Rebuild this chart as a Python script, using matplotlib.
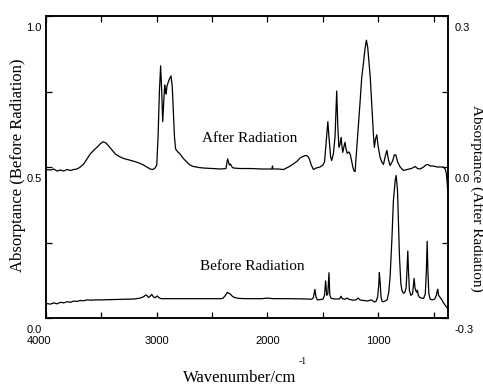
import matplotlib
matplotlib.use("Agg")
import matplotlib.pyplot as plt
from matplotlib.transforms import ScaledTranslation

# ---------------- data ----------------
after_wn = [4000, 3960, 3930, 3900, 3870, 3840, 3810, 3780, 3750, 3720, 3690, 3660,
            3630, 3600, 3570, 3540, 3510, 3485, 3460, 3435, 3405, 3375, 3340, 3300,
            3250, 3200, 3160, 3120, 3090, 3060, 3035, 3015, 3000, 2988, 2976, 2965,
            2955, 2946, 2937, 2928, 2921, 2916, 2908, 2900, 2885, 2871, 2860, 2850,
            2840, 2830, 2810, 2790, 2760, 2729, 2700, 2669, 2620, 2579, 2500, 2420,
            2375, 2365, 2359, 2350, 2344, 2335, 2320, 2308, 2250, 2150, 2050, 1970,
            1960, 1955, 1950, 1900, 1856, 1810, 1766, 1730, 1706, 1680, 1652, 1635,
            1622, 1605, 1585, 1560, 1525, 1500, 1485, 1470, 1455, 1445, 1430, 1420,
            1405, 1390, 1375, 1365, 1355, 1345, 1335, 1327, 1320, 1310, 1300, 1290,
            1280, 1265, 1254, 1240, 1230, 1218, 1209, 1195, 1180, 1165, 1149, 1135,
            1120, 1107, 1095, 1087, 1072, 1057, 1042, 1035, 1025, 1013, 1000, 983,
            968, 953, 938, 922, 908, 893, 870, 855, 841, 825, 802, 772, 740, 700,
            667, 645, 622, 590, 570, 552, 530, 502, 470, 440, 413, 395, 385, 378, 372]
after_abs = [-0.005, -0.006, -0.004, -0.008, -0.006, -0.008, -0.005, -0.007, -0.005, -0.004, 0.000, 0.006,
             0.016, 0.026, 0.033, 0.039, 0.046, 0.050, 0.048, 0.042, 0.034, 0.026, 0.021, 0.017,
             0.014, 0.011, 0.008, 0.004, 0.000, -0.004, -0.005, -0.002, 0.004, 0.060, 0.150, 0.201,
             0.150, 0.090, 0.130, 0.163, 0.150, 0.145, 0.160, 0.166, 0.175, 0.181, 0.160, 0.110,
             0.060, 0.036, 0.030, 0.026, 0.017, 0.010, 0.004, 0.001, -0.001, -0.002, -0.003, -0.004,
             -0.003, 0.010, 0.016, 0.008, 0.004, 0.006, 0.000, -0.002, -0.003, -0.003, -0.004, -0.004,
             -0.004, 0.002, -0.004, -0.004, -0.005, 0.000, 0.006, 0.012, 0.018, 0.021, 0.023, 0.021,
             0.016, 0.004, -0.005, -0.002, 0.000, 0.004, 0.010, 0.050, 0.090, 0.060, 0.020, 0.013,
             0.026, 0.060, 0.151, 0.080, 0.039, 0.045, 0.059, 0.040, 0.029, 0.040, 0.049, 0.035,
             0.027, 0.030, 0.026, 0.012, 0.000, -0.008, -0.009, 0.033, 0.075, 0.126, 0.178, 0.204,
             0.234, 0.252, 0.238, 0.218, 0.178, 0.118, 0.059, 0.039, 0.055, 0.064, 0.040, 0.019,
             0.010, 0.005, 0.020, 0.033, 0.015, 0.003, 0.012, 0.024, 0.024, 0.010, 0.000, -0.007, -0.005, -0.003,
             0.001, -0.003, -0.004, 0.000, 0.004, 0.005, 0.002, 0.002, 0.000, 0.000, 0.000, -0.004, -0.013, -0.030, -0.050]

before_wn = [4000, 3960, 3930, 3900, 3870, 3840, 3810, 3780, 3750, 3720, 3690, 3660,
             3630, 3600, 3550, 3500, 3400, 3300, 3200, 3150, 3121, 3100, 3090, 3075,
             3060, 3045, 3030, 3015, 2995, 2980, 2960, 2800, 2600, 2420, 2400, 2380,
             2362, 2350, 2338, 2320, 2300, 2260, 2200, 2050, 2000, 1950, 1800, 1650,
             1600, 1585, 1572, 1562, 1550, 1500, 1485, 1475, 1465, 1455, 1445, 1437,
             1425, 1390, 1350, 1335, 1325, 1300, 1280, 1265, 1240, 1230, 1200, 1180,
             1165, 1140, 1120, 1100, 1080, 1065, 1050, 1035, 1020, 1005, 995, 990,
             983, 975, 965, 955, 940, 920, 905, 893, 877, 863, 847, 838, 826, 817,
             808, 796, 785, 772, 760, 748, 740, 733, 726, 718, 705, 690, 682, 676,
             668, 660, 652, 646, 638, 625, 610, 590, 575, 566, 558, 551, 543, 530,
             510, 490, 475, 468, 462, 455, 445, 435, 425, 410, 395, 380, 372]
before_abs = [0.048, 0.046, 0.050, 0.047, 0.052, 0.050, 0.054, 0.052, 0.056, 0.055, 0.058, 0.057,
              0.060, 0.059, 0.060, 0.060, 0.061, 0.062, 0.063, 0.066, 0.070, 0.076, 0.075, 0.068,
              0.072, 0.078, 0.070, 0.067, 0.073, 0.067, 0.064, 0.064, 0.064, 0.064, 0.066, 0.075,
              0.085, 0.082, 0.080, 0.073, 0.068, 0.065, 0.064, 0.064, 0.066, 0.064, 0.064, 0.063,
              0.062, 0.068, 0.095, 0.070, 0.060, 0.062, 0.075, 0.123, 0.075, 0.080, 0.150, 0.075,
              0.065, 0.063, 0.063, 0.072, 0.064, 0.062, 0.066, 0.062, 0.060, 0.059, 0.060, 0.066,
              0.060, 0.058, 0.058, 0.056, 0.058, 0.060, 0.057, 0.053, 0.055, 0.070, 0.110, 0.150,
              0.120, 0.070, 0.055, 0.054, 0.056, 0.060, 0.085, 0.136, 0.257, 0.389, 0.455, 0.472, 0.422, 0.313,
              0.202, 0.115, 0.090, 0.082, 0.085, 0.100, 0.160, 0.222, 0.150, 0.090, 0.075, 0.080, 0.110, 0.131,
              0.100, 0.090, 0.085, 0.092, 0.075, 0.068, 0.066, 0.065, 0.080, 0.150, 0.254, 0.150, 0.080, 0.062,
              0.060, 0.063, 0.075, 0.090, 0.095, 0.075, 0.070, 0.065, 0.060, 0.050, 0.042, 0.035, 0.030]

x_major = [4000, 3000, 2000, 1000]
x_minor = [3500, 2500, 1500, 500]
left_major = [0.0, 0.5, 1.0]
left_minor = [0.25, 0.75]
right_major = [-0.3, 0.0, 0.3]
right_minor = [-0.15, 0.15]

# ---------------- figure ----------------
W, H = 483, 385
fig = plt.figure(figsize=(W / 100, H / 100), dpi=100)
L, R, T, B = 46, 448, 16, 318
ax = fig.add_axes([L / W, 1 - B / H, (R - L) / W, (B - T) / H])
ax2 = ax.twinx()

ax.plot(before_wn, before_abs, color="black", lw=0.9)
ax2.plot(after_wn, after_abs, color="black", lw=0.9)

ax.set_xlim(4000, 370)
ax.set_ylim(0, 1.0)
ax2.set_ylim(-0.3, 0.3)

tickfont = {"family": "Liberation Sans", "size": 8}
ax.set_xticks(x_major)
ax.set_xticks(x_minor, minor=True)
ax.set_xticklabels([str(v) for v in x_major], fontdict=tickfont)
ax.set_yticks(left_major)
ax.set_yticks(left_minor, minor=True)
ax.set_yticklabels(["%.1f" % v for v in left_major], fontdict=tickfont)
ax2.set_yticks(right_major)
ax2.set_yticks(right_minor, minor=True)
ax2.set_yticklabels(["%.1f" % v for v in right_major], fontdict=tickfont)

for a in (ax, ax2):
    for s in a.spines.values():
        s.set_linewidth(1.1)
ax.tick_params(which="both", direction="in", length=4, width=0.9, top=True, right=False)
ax.tick_params(axis="x", which="major", pad=13)
ax.tick_params(axis="y", which="major", pad=3)
ax2.tick_params(which="both", direction="in", length=4, width=0.9)
ax2.tick_params(axis="y", which="major", pad=5)

down = ScaledTranslation(0, -11 / 100, fig.dpi_scale_trans)
for lab in ax.get_yticklabels() + ax2.get_yticklabels():
    lab.set_transform(lab.get_transform() + down)
first = ax.get_xticklabels()[0]
first.set_transform(first.get_transform() + ScaledTranslation(-7 / 100, 0, fig.dpi_scale_trans))

serif = "Liberation Serif"
fig.text(250 / W, 1 - 138 / H, "After Radiation", family=serif, fontsize=11, ha="center", va="center")
fig.text(252 / W, 1 - 267 / H, "Before Radiation", family=serif, fontsize=11, ha="center", va="center")
fig.text(18 / W, 1 - 165 / H, "Absorptance (Before Radiation)", family=serif, fontsize=12,
         rotation=90, ha="center", va="center")
fig.text(476.5 / W, 1 - 198 / H, "Absorptance (After Radiation)", family=serif, fontsize=11,
         rotation=-90, ha="center", va="center")
fig.text(240 / W, 1 - 378 / H, "Wavenumber/cm", family=serif, fontsize=12, ha="center", va="center")
fig.text(303 / W, 1 - 362 / H, "-1", family=serif, fontsize=7, ha="center", va="center")

fig.savefig("out.png", dpi=100)
